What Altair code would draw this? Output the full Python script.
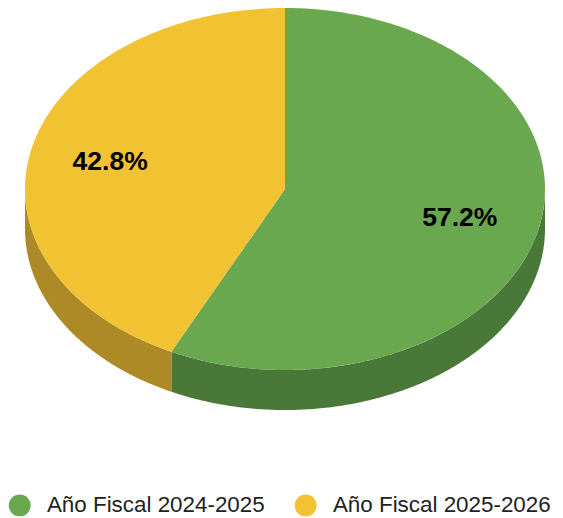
import numpy as np
import pandas as pd
import altair as alt

# ---- data ----
categories = ["Año Fiscal 2024-2025", "Año Fiscal 2025-2026"]
values = [57.2, 42.8]
labels = ["57.2%", "42.8%"]

# ---- style ----
top_colors = ["#6aa84f", "#f1c232"]
side_colors = ["#4a7838", "#ae8a27"]
CX, CY, RX, RY, DEPTH = 285.0, 189.0, 260.0, 181.0, 40.0
LABEL_R = 0.69
W, H = 547, 509

def pt(t_deg, dy=0.0):
    t = np.radians(t_deg)
    return CX + RX * np.sin(t), CY - RY * np.cos(t) + dy

total = sum(values)
starts, ends = [], []
acc = 0.0
for v in values:
    starts.append(acc / total * 360)
    acc += v
    ends.append(acc / total * 360)

top_rows, side_rows, label_rows = [], [], []
for i, cat in enumerate(categories):
    s, e = starts[i], ends[i]
    ts = np.linspace(s, e, 240)
    k = 0
    top_rows.append(dict(cat=cat, x=CX, y=CY, o=k)); k += 1
    for t in ts:
        x, y = pt(t)
        top_rows.append(dict(cat=cat, x=x, y=y, o=k)); k += 1
    top_rows.append(dict(cat=cat, x=CX, y=CY, o=k))
    a, b = max(s, 90.0), min(e, 270.0)
    if b > a:
        ws = np.linspace(a, b, 200)
        k = 0
        for t in ws:
            x, y = pt(t)
            side_rows.append(dict(cat=cat, col=side_colors[i], x=x, y=y, o=k)); k += 1
        for t in ws[::-1]:
            x, y = pt(t, DEPTH)
            side_rows.append(dict(cat=cat, col=side_colors[i], x=x, y=y, o=k)); k += 1
    m = (s + e) / 2
    t = np.radians(m)
    label_rows.append(dict(cat=cat, label=labels[i],
                           x=CX + LABEL_R * RX * np.sin(t),
                           y=CY - LABEL_R * RY * np.cos(t)))

top_df = pd.DataFrame(top_rows)
side_df = pd.DataFrame(side_rows)
label_df = pd.DataFrame(label_rows)

xs = alt.Scale(domain=[8, 8 + W], nice=False, zero=False)
ys = alt.Scale(domain=[8 + H, 8], nice=False, zero=False)

X = alt.X("x:Q", scale=xs, axis=None)
Y = alt.Y("y:Q", scale=ys, axis=None)

sides = alt.Chart(side_df).mark_line(filled=True, strokeWidth=0).encode(
    x=X, y=Y, order="o:Q", detail="cat:N",
    color=alt.Color("col:N", scale=None),
)

tops = alt.Chart(top_df).mark_line(filled=True, strokeWidth=0).encode(
    x=X, y=Y, order="o:Q", detail="cat:N",
    color=alt.Color(
        "cat:N",
        scale=alt.Scale(domain=categories, range=top_colors),
        legend=alt.Legend(
            title=None, orient="none", direction="horizontal",
            legendX=0.5, legendY=486,
            symbolType="circle", symbolSize=480, symbolStrokeWidth=0,
            labelFont="Liberation Sans", labelFontSize=22.4, labelColor="#222222",
            labelOffset=16, labelLimit=400, columnPadding=29, padding=0,
        ),
    ),
)

text = alt.Chart(label_df).mark_text(
    font="Liberation Sans", fontSize=26.5, fontWeight="bold", color="#000000",
    baseline="middle", align="center", dy=1,
).encode(x=X, y=Y, text="label:N")

chart = alt.layer(sides, tops, text).properties(
    width=W, height=H, padding=0, autosize=alt.AutoSizeParams(type="none"),
).configure_view(stroke=None)

chart.save("out.html", embed_options={"renderer": "svg", "actions": False})
